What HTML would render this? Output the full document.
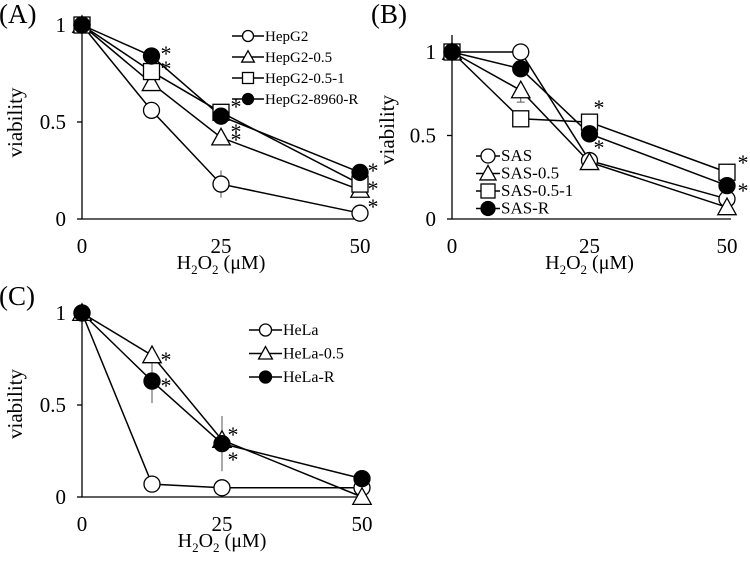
<!DOCTYPE html>
<html><head><meta charset="utf-8"><style>
body{margin:0;background:#fff;}
svg{display:block;font-family:"Liberation Serif",serif;}
</style></head><body>
<svg id="fig" width="750" height="561" viewBox="0 0 750 561"></svg>
<script>
const xCats=[0,12.5,25,50];
const xTicks=[0,25,50];
const yTicks=[0,0.5,1];
const yTickLabels=["0","0.5","1"];
// Panel A
const aNames=["HepG2","HepG2-0.5","HepG2-0.5-1","HepG2-8960-R"];
const aHepG2=[1,0.56,0.18,0.03];
const aHepG205=[1,0.70,0.42,0.15];
const aHepG2051=[1,0.76,0.55,0.18];
const aHepG2R=[1,0.84,0.53,0.24];
const aErrHepG2=[0,0,0.07,0];
// Panel B
const bNames=["SAS","SAS-0.5","SAS-0.5-1","SAS-R"];
const bSAS=[1,1.0,0.35,0.12];
const bSAS05=[1,0.77,0.34,0.07];
const bSAS051=[1,0.60,0.58,0.28];
const bSASR=[1,0.90,0.51,0.20];
const bErrSAS05=[0,0.07,0,0];
// Panel C
const cNames=["HeLa","HeLa-0.5","HeLa-R"];
const cHeLa=[1,0.07,0.05,0.05];
const cHeLa05=[1,0.77,0.31,0.0];
const cHeLaR=[1,0.63,0.29,0.10];
const cErrHeLaR=[0,0.12,0.15,0];

const NS="http://www.w3.org/2000/svg";
const svg=document.getElementById('fig');
function mk(tag,attrs,parent){const e=document.createElementNS(NS,tag);for(const k in attrs)e.setAttribute(k,attrs[k]);(parent||svg).appendChild(e);return e;}
function marker(g,type,cx,cy,r){
  let e;
  if(type==='circle'||type==='dot'){e=mk('circle',{cx:cx,cy:cy,r:r,fill:type==='dot'?'#000':'#fff',stroke:'#000','stroke-width':1.3},g);}
  else if(type==='square'){e=mk('rect',{x:cx-r,y:cy-r,width:2*r,height:2*r,fill:'#fff',stroke:'#000','stroke-width':1.3},g);}
  else {const h=r*1.15;e=mk('polygon',{points:`${cx},${cy-h} ${cx+h},${cy+h*0.8} ${cx-h},${cy+h*0.8}`,fill:'#fff',stroke:'#000','stroke-width':1.3},g);}
  return e;
}
function panel(cfg){
  const g=mk('g',{});
  
  
  const X=v=>cfg.x0+(cfg.x1-cfg.x0)*v/50;
  const Y=v=>cfg.y0+(cfg.y1-cfg.y0)*v;
  const ax=mk('path',{d:`M${cfg.x0},${cfg.top} V${cfg.y0} H${cfg.x1+4}`,fill:'none',stroke:'#000','stroke-width':1.3},g);
  
  yTicks.forEach((t,i)=>{
    const tk=mk('line',{x1:cfg.x0-5,x2:cfg.x0,y1:Y(t),y2:Y(t),stroke:'#000','stroke-width':1.3},g);
    
    const tl=mk('text',{x:cfg.x0-16,y:Y(t)+7,'text-anchor':'end','font-size':21},g);tl.textContent=yTickLabels[i];
    
  });
  xTicks.forEach(t=>{
    const tl=mk('text',{x:X(t),y:cfg.y0+34,'text-anchor':'middle','font-size':21},g);tl.textContent=String(t);
    
  });
  const xt=mk('text',{x:(cfg.x0+cfg.x1)/2,y:cfg.y0+50,'text-anchor':'middle','font-size':20},g);
  xt.innerHTML='H<tspan font-size="13" dy="5">2</tspan><tspan dy="-5">O</tspan><tspan font-size="13" dy="5">2</tspan><tspan dy="-5"> (μM)</tspan>';
  
  const yt=mk('text',{x:0,y:0,'text-anchor':'middle','font-size':21,transform:`translate(${cfg.ytx},${(cfg.top+cfg.y0)/2+3}) rotate(-90)`},g);
  yt.textContent='viability';
  const pl=mk('text',{x:cfg.lx,y:cfg.ly,'font-size':27},g);pl.textContent=cfg.label;
  
  cfg.series.forEach(s=>{
    (s.err||[]).forEach((e,i)=>{ if(e>0){
      const el=mk('line',{x1:X(xCats[i]),x2:X(xCats[i]),y1:Y(s.v[i]-e),y2:Y(s.v[i]+(s.oneSide?0:e)),stroke:'#555','stroke-width':1},g);
      
      if(s.oneSide){mk('line',{x1:X(xCats[i])-4,x2:X(xCats[i])+4,y1:Y(s.v[i]-e),y2:Y(s.v[i]-e),stroke:'#555','stroke-width':1},g);}
    }});
    const ln=mk('polyline',{points:s.v.map((v,i)=>X(xCats[i])+','+Y(v)).join(' '),fill:'none',stroke:'#000','stroke-width':1.5},g);
    
  });
  cfg.series.forEach(s=>{
    s.v.forEach((v,i)=>{const m=marker(g,s.t,X(xCats[i]),Y(v),8);
      });
  });
  cfg.series.forEach((s,i)=>{
    const yy=cfg.legY+i*cfg.legDy;
    const l=mk('line',{x1:cfg.legX,x2:cfg.legX+cfg.legW,y1:yy,y2:yy,stroke:'#000','stroke-width':1.5},g);
    
    const m=marker(g,s.t,cfg.legX+cfg.legW/2,yy,cfg.legR);
    
    const t=mk('text',{x:cfg.legX+cfg.legW+1,y:yy+5,'font-size':cfg.legFs},g);t.textContent=s.n;
    
  });
  cfg.stars.forEach(p=>{const t=mk('text',{x:p[0],y:p[1]+9,'font-size':22,'text-anchor':'middle'},g);t.textContent='*';
    });
}
panel({name:'panel-a',label:'(A)',lx:-1,ly:23,x0:82,x1:360,y0:219,y1:25,top:20,ytx:22,
  series:[{n:aNames[0],t:'circle',v:aHepG2,err:aErrHepG2},{n:aNames[1],t:'tri',v:aHepG205},{n:aNames[2],t:'square',v:aHepG2051},{n:aNames[3],t:'dot',v:aHepG2R}],
  legX:232,legY:36,legDy:21,legW:32,legR:5.5,legFs:15,
  stars:[[166,52],[166,67],[236,105],[236,130],[236,138],[373,169],[373,187],[373,205]]});
panel({name:'panel-b',label:'(B)',lx:371,ly:23,x0:452,x1:727,y0:219,y1:52,top:35,ytx:394,
  series:[{n:bNames[0],t:'circle',v:bSAS},{n:bNames[1],t:'tri',v:bSAS05,err:bErrSAS05,oneSide:true},{n:bNames[2],t:'square',v:bSAS051},{n:bNames[3],t:'dot',v:bSASR}],
  legX:476,legY:156,legDy:17.5,legW:24,legR:7,legFs:17,
  stars:[[599,106],[599,146],[743,161],[743,189]]});
panel({name:'panel-c',label:'(C)',lx:-1,ly:305,x0:82,x1:362,y0:497,y1:313,top:305,ytx:22,
  series:[{n:cNames[0],t:'circle',v:cHeLa},{n:cNames[1],t:'tri',v:cHeLa05},{n:cNames[2],t:'dot',v:cHeLaR,err:cErrHeLaR}],
  legX:249,legY:330,legDy:23.5,legW:33,legR:6,legFs:16,
  stars:[[166,358],[166,384],[233,433],[233,458]]});
</script>
</body></html>
